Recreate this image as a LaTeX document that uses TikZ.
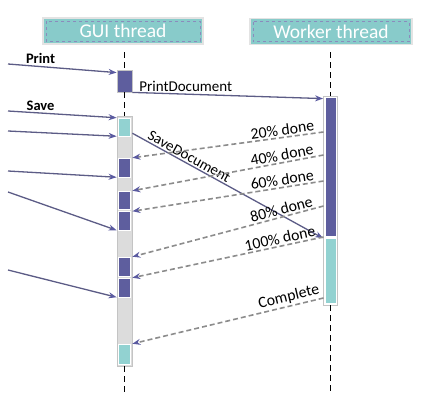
\documentclass[tikz,border=0pt]{standalone}
\usepackage{fontspec}
\setmainfont{Carlito}
\usetikzlibrary{arrows.meta}
\definecolor{hdr}{HTML}{88CBCA}
\definecolor{dk}{HTML}{5E5E9E}
\definecolor{tl}{HTML}{92D2D1}
\definecolor{gy}{HTML}{DCDCDC}
\definecolor{ln}{HTML}{5C5C86}
\definecolor{dl}{HTML}{8C8C8C}
\definecolor{tipc}{HTML}{5A5AA0}
\definecolor{edge}{HTML}{C4C4C4}
\begin{document}
\begin{tikzpicture}[x=1pt,y=-1pt,
  hdrbox/.style={rectangle, fill=hdr, draw=gray!22, line width=1.4pt, text=white,
    font=\fontsize{19.5}{22}\selectfont, inner sep=0pt, minimum height=26pt,
    path picture={\draw[dashed, tipc!70, line width=0.4pt]
      ([shift={(3pt,-3pt)}]path picture bounding box.north west) rectangle
      ([shift={(-3pt,3pt)}]path picture bounding box.south east);}},
  colbox/.style={rectangle, fill=gy, draw=edge, line width=0.8pt, inner sep=0pt, minimum width=15pt},
  segbox/.style={rectangle, draw=white, line width=0.5pt, inner sep=0pt, minimum width=12pt},
  life/.style={draw=black, line width=1.8pt, dash pattern=on 6pt off 4pt},
  inarrow/.style={draw=ln, line width=1.3pt, -{Stealth[length=8pt,width=6pt,color=tipc]}},
  retarrow/.style={draw=dl, line width=1.6pt, dash pattern=on 5pt off 3pt, -{Stealth[length=8pt,width=6pt,color=tipc]}},
  lbl/.style={font=\fontsize{15}{17}\selectfont, text=black, inner sep=1.5pt},
  plbl/.style={font=\fontsize{15.8}{18}\selectfont, text=black, inner sep=1.5pt},
  blbl/.style={font=\bfseries\fontsize{14.5}{17}\selectfont, text=black, inner sep=2pt}
]
\useasboundingbox (0,0) rectangle (442,410);

% headers
\node[hdrbox, minimum width=160pt] (gh) at (123,31) {GUI thread};
\node[hdrbox, minimum width=162pt] (wh) at (331,31.5) {Worker thread};

% GUI column
\node[colbox, fill=dk, minimum height=22pt] (pbox) at (124.5,81) {};
\node[colbox, minimum height=250pt] (gcol) at (124.5,241) {};
\node[segbox, fill=tl, minimum height=18pt] (gs1) at (124.5,127) {};
\node[segbox, fill=dk, minimum height=19pt] (gs2) at (124.5,167.5) {};
\node[segbox, fill=dk, minimum height=18.5pt] (gs3) at (124.5,200.25) {};
\node[segbox, fill=dk, minimum height=18.5pt] (gs4) at (124.5,220.75) {};
\node[segbox, fill=dk, minimum height=19pt] (gs5) at (124.5,266.5) {};
\node[segbox, fill=dk, minimum height=19pt] (gs6) at (124.5,287.5) {};
\node[segbox, fill=tl, minimum height=20pt] (gs7) at (124.5,354) {};

% Worker column
\node[colbox, fill=white, minimum width=14pt, minimum height=209pt] (wcol) at (330.5,200.5) {};
\node[segbox, fill=dk, minimum width=11pt, minimum height=139pt] (ws1) at (330.5,167) {};
\node[segbox, fill=tl, minimum width=11pt, minimum height=65pt] (ws2) at (330.5,271) {};

% lifelines
\coordinate (gtop) at (124.5,52);
\coordinate (gbot) at (124.5,396);
\coordinate (wtop) at (330.5,52);
\coordinate (wbot) at (330.5,394);
\draw[life] (gtop) -- (pbox.north);
\draw[life] (pbox.south) -- (gcol.north);
\draw[life] (gcol.south) -- (gbot);
\draw[life] (wtop) -- (wcol.north);
\draw[life] (wcol.south) -- (wbot);

% incoming events
\coordinate (a1) at (8,64);
\coordinate (a2) at (8,111);
\coordinate (a3) at (8,131);
\coordinate (a4) at (8,171);
\coordinate (a5) at (8,192);
\coordinate (a6) at (8,270);
\draw[inarrow] (a1) -- node[blbl, above, pos=0.3] {Print} ([yshift=-3pt]pbox.north west);
\draw[inarrow] (a2) -- node[blbl, above, pos=0.3] {Save} (gcol.west |- gs1.north);
\draw[inarrow] (a3) -- (gcol.west |- gs1.south);
\draw[inarrow] (a4) -- (gcol.west |- gs2.south);
\draw[inarrow] (a5) -- (gcol.west |- gs4.south);
\draw[inarrow] (a6) -- (gcol.west |- gs6.south);

% calls to worker
\draw[inarrow] (pbox.south east) -- node[lbl, above, pos=0.28] {PrintDocument} ([yshift=-3pt]wcol.north west);
\draw[inarrow] ([yshift=3pt]gcol.east |- gs1.south) -- node[lbl, sloped, above, pos=0.28] {SaveDocument} (wcol.west |- ws2.north);

% progress reports
\coordinate (w1) at (323.5,132);
\coordinate (w2) at (323.5,155);
\coordinate (w3) at (323.5,181);
\coordinate (w4) at (323.5,206);
\coordinate (w5) at (323.5,237);
\coordinate (w6) at (323.5,298);
\draw[retarrow] (w1) -- node[plbl, sloped, above, pos=0.21] {20\% done} (gcol.east |- gs2.north);
\draw[retarrow] (w2) -- node[plbl, sloped, above, pos=0.21] {40\% done} (gcol.east |- gs3.north);
\draw[retarrow] (w3) -- node[plbl, sloped, above, pos=0.21] {60\% done} (gcol.east |- gs4.north);
\draw[retarrow] (w4) -- node[plbl, sloped, above, pos=0.21] {80\% done} (gcol.east |- gs5.north);
\draw[retarrow] (w5) -- node[plbl, sloped, above, pos=0.22] {100\% done} (gcol.east |- gs6.north);
\draw[retarrow] (w6) -- node[plbl, sloped, above, pos=0.17] {Complete} (gcol.east |- gs7.north);
\end{tikzpicture}
\end{document}
